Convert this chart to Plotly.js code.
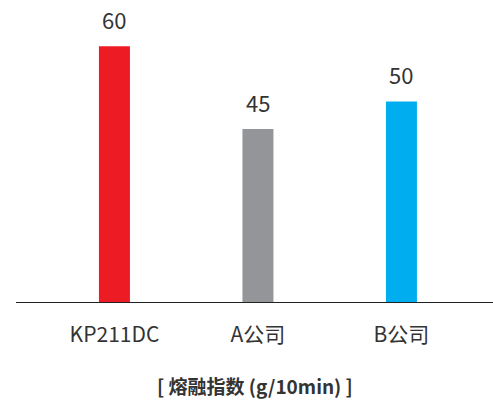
<!DOCTYPE html>
<html>
<head>
<meta charset="utf-8">
<script src="https://cdn.plot.ly/plotly-3.0.1.min.js"></script>
<style>html,body{margin:0;padding:0;background:#fff;}#chart{width:493px;height:401px;}</style>
</head>
<body>
<div id="chart"></div>
<script>
const categories = ["KP211DC", "A公司", "B公司"];
const values = [60, 45, 50];
const barColors = ["#ED1C24", "#939598", "#00AEEF"];
const axisTitle = "[ 熔融指数 (g/10min) ]";

const FONT = "'Noto Sans CJK SC', 'Noto Sans', sans-serif";

const trace = {
  type: "bar",
  x: categories,
  y: values,
  marker: { color: barColors, line: { width: 0 } },
  width: 0.216,
  hoverinfo: "none"
};

const annotations = categories.map((c, i) => ({
  x: c, y: values[i], xref: "x", yref: "y",
  text: String(values[i]), showarrow: false,
  yanchor: "middle", yshift: 27,
  font: { family: FONT, size: 22, color: "#333333" }
}));
annotations.push({
  x: 0.5, y: 385, xref: "paper", yref: "paper",
  text: "<b>" + axisTitle + "</b>", showarrow: false,
  font: { family: FONT, size: 19, color: "#333333" }
});

const layout = {
  width: 493, height: 401,
  margin: { l: 16, r: 0, t: 0, b: 99 },
  paper_bgcolor: "#ffffff", plot_bgcolor: "#ffffff",
  showlegend: false,
  font: { family: FONT, color: "#333333" },
  xaxis: {
    type: "category",
    range: [-0.686, 2.638],
    showline: true, linecolor: "#222222", linewidth: 1,
    showgrid: false, zeroline: false,
    ticks: "outside", ticklen: 14, tickcolor: "rgba(0,0,0,0)",
    tickfont: { family: FONT, size: 21, color: "#333333" },
    fixedrange: true
  },
  yaxis: {
    range: [13.6, 68.4],
    visible: false, showgrid: false, zeroline: false,
    fixedrange: true
  },
  annotations: annotations
};

// convert title y from pixel to paper coordinates
const plotH = layout.height - layout.margin.t - layout.margin.b;
annotations[annotations.length - 1].y = (layout.height - layout.margin.b - 385) / plotH;
annotations[annotations.length - 1].yanchor = "middle";

Plotly.newPlot("chart", [trace], layout, { displayModeBar: false, staticPlot: true });
</script>
</body>
</html>
